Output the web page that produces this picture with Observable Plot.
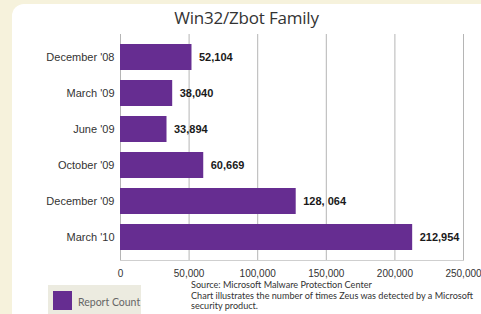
<!DOCTYPE html>
<html>
<head>
<meta charset="utf-8">
<script src="https://cdn.jsdelivr.net/npm/d3@7"></script>
<script src="https://cdn.jsdelivr.net/npm/@observablehq/plot@0.6"></script>
<style>
  html, body { margin: 0; padding: 0; }
  body { width: 481px; height: 314px; overflow: hidden; background: #f6f2dc; position: relative; }
  #panel { position: absolute; left: 12px; top: 4px; width: 490px; height: 330px; background: #ffffff; border-radius: 12px; }
  #title { position: absolute; left: 0; width: 481px; top: 6px; text-align: center; padding-left: 12px; box-sizing: border-box;
           font-family: "Open Sans", sans-serif; font-size: 17px; color: #333; letter-spacing: -0.2px; }
  #chart { position: absolute; left: 0; top: 0; }
  #legend { position: absolute; left: 48px; top: 285px; width: 93px; height: 40px; background: #ecebe0; }
  #legend .sw { position: absolute; left: 5px; top: 6px; width: 19px; height: 19px; }
  #legend .lab { position: absolute; left: 30px; top: 11px; font-family: Lato, sans-serif; font-size: 10.5px; color: #666; white-space: nowrap; }
  #caption { position: absolute; left: 191px; top: 280px; font-family: Lato, sans-serif; font-size: 9.1px; line-height: 10.6px; color: #333; white-space: nowrap; }
</style>
</head>
<body>
<div id="panel"></div>
<div id="title"></div>
<div id="chart"></div>
<div id="legend"></div>
<div id="caption"></div>
<script>
const title = "Win32/Zbot Family";
const categories = ["December '08", "March '09", "June '09", "October '09", "December '09", "March '10"];
const values = [52104, 38040, 33894, 60669, 128064, 212954];
const valueLabels = ["52,104", "38,040", "33,894", "60,669", "128, 064", "212,954"];
const xTicks = [0, 50000, 100000, 150000, 200000, 250000];
const seriesName = "Report Count";
const captionLines = [
  "Source: Microsoft Malware Protection Center",
  "Chart illustrates the number of times Zeus was detected by a Microsoft",
  "security product."
];
const barColor = "#662d91";

const data = categories.map((c, i) => ({category: c, value: values[i], label: valueLabels[i]}));

document.getElementById("title").textContent = title;

const chart = Plot.plot({
  width: 481,
  height: 280,
  marginLeft: 120,
  marginRight: 18,
  marginTop: 34,
  marginBottom: 20,
  style: {background: "transparent", fontFamily: "'Liberation Sans', Arial, sans-serif", color: "#333"},
  x: {domain: [0, 250000], ticks: xTicks, tickFormat: d3.format(",")},
  y: {domain: categories, paddingInner: 0.285, paddingOuter: 0.2},
  marks: [
    Plot.gridX(xTicks, {stroke: "#b5b5b5", strokeOpacity: 1}),
    Plot.frame({anchor: "bottom", stroke: "#cfcfcf"}),
    Plot.barX(data, {x: "value", y: "category", fill: barColor}),
    Plot.text(data, {x: "value", y: "category", text: "label", textAnchor: "start", dx: 7, fontWeight: "bold", fontSize: 11, fill: "#1a1a1a"}),
    Plot.axisX({ticks: xTicks, tickFormat: d3.format(","), tickSize: 0, tickPadding: 9, fontSize: 10, label: null}),
    Plot.axisY({tickSize: 0, tickPadding: 6, fontSize: 11, label: null})
  ]
});
document.getElementById("chart").appendChild(chart);

const legend = document.getElementById("legend");
legend.innerHTML = `<div class="sw" style="background:${barColor}"></div><div class="lab"></div>`;
legend.querySelector(".lab").textContent = seriesName;

const cap = document.getElementById("caption");
captionLines.forEach(t => { const d = document.createElement("div"); d.textContent = t; cap.appendChild(d); });
</script>
</body>
</html>
